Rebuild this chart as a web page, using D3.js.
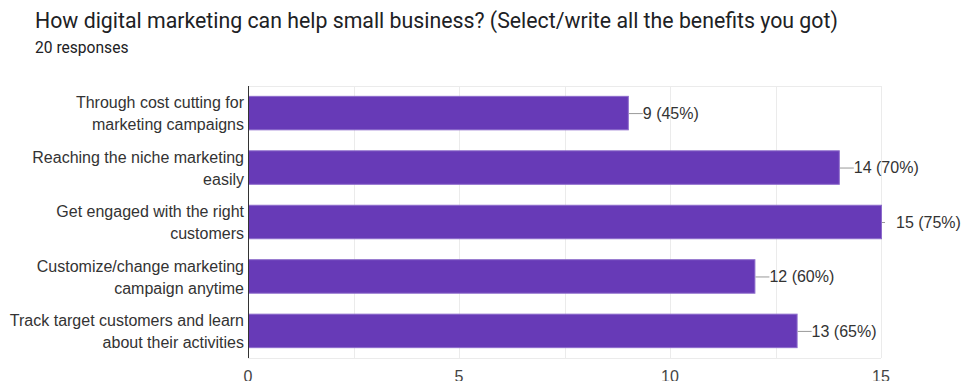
<!DOCTYPE html>
<html>
<head>
<meta charset="utf-8">
<script src="https://cdn.jsdelivr.net/npm/d3@7"></script>
<style>
  body { margin: 0; background: #fff; }
  svg { display: block; }
</style>
</head>
<body>
<div id="chart"></div>
<script>
const categories = [
  ["Through cost cutting for", "marketing campaigns"],
  ["Reaching the niche marketing", "easily"],
  ["Get engaged with the right", "customers"],
  ["Customize/change marketing", "campaign anytime"],
  ["Track target customers and learn", "about their activities"]
];
const counts = [9, 14, 15, 12, 13];
const percents = [45, 70, 75, 60, 65];
const xTicks = [0, 5, 10, 15];
const gridValues = [2.5, 5, 7.5, 10, 12.5, 15];

const W = 964, H = 381;
const margin = {top: 86, right: 83, bottom: 23, left: 248};
const width = W - margin.left - margin.right,
  height = H - margin.top - margin.bottom;

const svg = d3.select("#chart")
  .append("svg")
  .attr("width", W)
  .attr("height", H);

// title
svg.append("text")
  .attr("x", 35).attr("y", 28)
  .style("font-family", "Roboto, sans-serif")
  .style("font-size", "21.3px")
  .style("fill", "#202124")
  .text("How digital marketing can help small business? (Select/write all the benefits you got)");
svg.append("text")
  .attr("x", 35).attr("y", 53)
  .style("font-family", "Roboto, sans-serif")
  .style("font-size", "15.6px")
  .style("fill", "#202124")
  .text("20 responses");

const g = svg.append("g")
  .attr("transform", `translate(${margin.left},${margin.top})`);

const x = d3.scaleLinear().domain([0, 15]).range([0, width]);
const y = d3.scaleBand()
  .domain(d3.range(categories.length))
  .range([0, height])
  .paddingInner(0.385)
  .paddingOuter(0.19);

// grid
g.append("line")
  .attr("x1", 0).attr("x2", width).attr("y1", 0.5).attr("y2", 0.5)
  .attr("stroke", "#ebebeb");
g.append("line")
  .attr("x1", 0).attr("x2", width).attr("y1", height + 0.5).attr("y2", height + 0.5)
  .attr("stroke", "#ebebeb");
g.selectAll(".grid")
  .data(gridValues)
  .join("line")
  .attr("class", "grid")
  .attr("x1", d => Math.round(x(d)) + 0.5)
  .attr("x2", d => Math.round(x(d)) + 0.5)
  .attr("y1", 0).attr("y2", height)
  .attr("stroke", "#ebebeb");

// bars
g.selectAll(".bar")
  .data(counts)
  .join("rect")
  .attr("class", "bar")
  .attr("x", 0.5)
  .attr("y", (d, i) => y(i))
  .attr("width", d => x(d))
  .attr("height", y.bandwidth())
  .attr("fill", "#673ab7")
  .attr("stroke", "#8c6bcb")
  .attr("stroke-width", 1);

// value labels with leader lines
const lab = g.selectAll(".lab")
  .data(counts)
  .join("g")
  .attr("class", "lab")
  .attr("transform", (d, i) => `translate(${x(d)},${y(i) + y.bandwidth() / 2})`);
lab.append("line")
  .attr("x1", 1).attr("x2", d => d === 15 ? 4 : 15)
  .attr("y1", 0.5).attr("y2", 0.5)
  .attr("stroke", "#999");
lab.append("text")
  .attr("x", 15)
  .attr("dy", "0.35em")
  .style("font-family", "'Liberation Sans', Arial, sans-serif")
  .style("font-size", "16px")
  .style("fill", "#333")
  .text((d, i) => `${d} (${percents[i]}%)`);

// category labels
const cat = g.selectAll(".cat")
  .data(categories)
  .join("text")
  .attr("class", "cat")
  .attr("text-anchor", "end")
  .attr("x", -4)
  .attr("y", (d, i) => y(i) + y.bandwidth() / 2)
  .style("font-family", "'Liberation Sans', Arial, sans-serif")
  .style("font-size", "16px")
  .style("fill", "#333");
cat.selectAll("tspan")
  .data(d => d)
  .join("tspan")
  .attr("x", -4)
  .attr("dy", (d, j) => j === 0 ? "-0.3em" : "22px")
  .text(d => d);

// left axis line
g.append("line")
  .attr("x1", 0.5).attr("x2", 0.5)
  .attr("y1", 0).attr("y2", height)
  .attr("stroke", "#333");

// x axis labels
g.selectAll(".xt")
  .data(xTicks)
  .join("text")
  .attr("class", "xt")
  .attr("x", d => x(d))
  .attr("y", height + 24)
  .attr("text-anchor", "middle")
  .style("font-family", "'Liberation Sans', Arial, sans-serif")
  .style("font-size", "16px")
  .style("fill", "#444")
  .text(d => d);
</script>
</body>
</html>
